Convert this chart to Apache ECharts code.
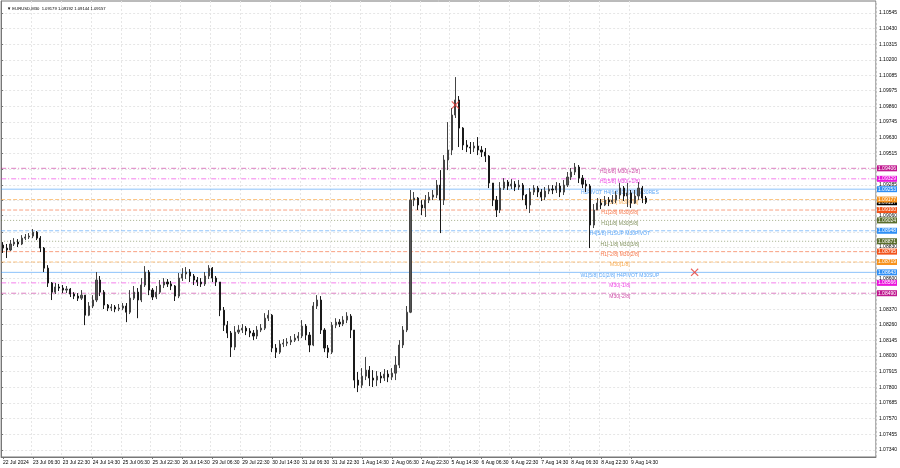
<!DOCTYPE html>
<html><head><meta charset="utf-8">
<script src="https://cdn.jsdelivr.net/npm/echarts@6/dist/echarts.min.js"></script>
<style>html,body{margin:0;padding:0;background:#fff}#c{width:900px;height:468px}</style>
</head><body><div id="c"></div>
<script>
// ---- data ----
const timeLabels = ["22 Jul 2024","23 Jul 06:30","23 Jul 22:30","24 Jul 14:30","25 Jul 06:30","25 Jul 22:30","26 Jul 14:30","29 Jul 06:30","29 Jul 22:30","30 Jul 14:30","31 Jul 06:30","31 Jul 22:30","1 Aug 14:30","2 Aug 06:30","2 Aug 22:30","5 Aug 14:30","6 Aug 06:30","6 Aug 22:30","7 Aug 14:30","8 Aug 06:30","8 Aug 22:30","9 Aug 14:30"];
const yTickLabels = ["1.07340","1.07455","1.07570","1.07685","1.07800","1.07915","1.08030","1.08145","1.08260","1.08370","1.08485","1.08600","1.08715","1.08830","1.08940","1.09060","1.09170","1.09285","1.09400","1.09515","1.09630","1.09745","1.09860","1.09975","1.10085","1.10200","1.10315","1.10430","1.10545"];
const firstOpen = 1.08843;
const closes = [1.08821,1.08807,1.08851,1.08865,1.08851,1.08894,1.08902,1.08909,1.08938,1.08894,
1.08821,1.08674,1.08565,1.08498,1.08536,1.08528,1.08513,1.08521,1.08484,1.08469,
1.08454,1.08476,1.08329,1.08396,1.08440,1.08587,1.08498,1.08403,1.08381,1.08389,
1.08374,1.08381,1.08396,1.08351,1.08454,1.08498,1.08440,1.08550,1.08645,1.08513,
1.08462,1.08498,1.08550,1.08572,1.08558,1.08543,1.08469,1.08601,1.08631,1.08645,
1.08616,1.08587,1.08572,1.08558,1.08616,1.08674,1.08601,1.08572,1.08366,1.08256,
1.08198,1.08095,1.08205,1.08220,1.08234,1.08213,1.08198,1.08176,1.08220,1.08234,
1.08307,1.08329,1.08088,1.08058,1.08117,1.08124,1.08132,1.08146,1.08161,1.08176,
1.08249,1.08183,1.08110,1.08396,1.08440,1.08220,1.08088,1.08058,1.08256,1.08278,
1.08264,1.08293,1.08322,1.08220,1.07853,1.07816,1.07882,1.07926,1.07868,1.07853,
1.07882,1.07868,1.07897,1.07875,1.07904,1.07963,1.08110,1.08220,1.08351,1.09173,
1.09188,1.09137,1.09115,1.09173,1.09195,1.09210,1.09283,1.09173,1.09467,1.09540,
1.09797,1.09907,1.09701,1.09577,1.09562,1.09555,1.09569,1.09540,1.09525,1.09496,
1.09298,1.09173,1.09100,1.09261,1.09305,1.09276,1.09290,1.09269,1.09283,1.09210,
1.09137,1.09232,1.09261,1.09232,1.09195,1.09239,1.09254,1.09247,1.09276,1.09232,
1.09283,1.09342,1.09379,1.09415,1.09334,1.09290,1.09276,1.08990,1.09100,1.09151,
1.09137,1.09173,1.09159,1.09173,1.09210,1.09261,1.09203,1.09225,1.09151,1.09203,
1.09261,1.09188,1.09157];
const highs = [1.08865,1.08851,1.08880,1.08894,1.08887,1.08916,1.08924,1.08931,1.08961,1.08946,
1.08909,1.08829,1.08696,1.08572,1.08565,1.08558,1.08550,1.08543,1.08528,1.08498,
1.08491,1.08513,1.08476,1.08425,1.08476,1.08645,1.08616,1.08513,1.08411,1.08411,
1.08403,1.08411,1.08418,1.08418,1.08513,1.08543,1.08528,1.08601,1.08689,1.08660,
1.08528,1.08543,1.08587,1.08601,1.08594,1.08580,1.08550,1.08638,1.08674,1.08682,
1.08667,1.08631,1.08609,1.08601,1.08645,1.08696,1.08682,1.08616,1.08572,1.08389,
1.08286,1.08213,1.08249,1.08256,1.08264,1.08249,1.08234,1.08220,1.08249,1.08264,
1.08344,1.08366,1.08337,1.08117,1.08146,1.08154,1.08161,1.08176,1.08191,1.08205,
1.08293,1.08264,1.08205,1.08425,1.08476,1.08469,1.08234,1.08110,1.08278,1.08307,
1.08300,1.08322,1.08351,1.08337,1.08220,1.07912,1.07941,1.08022,1.07956,1.07926,
1.07919,1.07912,1.07934,1.07926,1.07941,1.08029,1.08146,1.08249,1.08396,1.09247,
1.09232,1.09195,1.09173,1.09210,1.09232,1.09247,1.09320,1.09393,1.09503,1.09745,
1.09848,1.10075,1.09936,1.09708,1.09613,1.09599,1.09599,1.09635,1.09569,1.09555,
1.09503,1.09298,1.09203,1.09305,1.09334,1.09320,1.09327,1.09312,1.09320,1.09298,
1.09217,1.09261,1.09283,1.09276,1.09254,1.09269,1.09283,1.09283,1.09305,1.09298,
1.09320,1.09379,1.09408,1.09445,1.09430,1.09357,1.09320,1.09290,1.09144,1.09188,
1.09181,1.09203,1.09195,1.09210,1.09239,1.09298,1.09276,1.09298,1.09247,1.09247,
1.09305,1.09276,1.09203];
const lows = [1.08785,1.08748,1.08800,1.08836,1.08829,1.08843,1.08880,1.08887,1.08894,1.08880,
1.08792,1.08645,1.08536,1.08440,1.08484,1.08506,1.08491,1.08491,1.08462,1.08447,
1.08433,1.08440,1.08256,1.08322,1.08381,1.08425,1.08469,1.08374,1.08359,1.08359,
1.08351,1.08359,1.08366,1.08278,1.08337,1.08440,1.08307,1.08425,1.08536,1.08476,
1.08440,1.08447,1.08484,1.08528,1.08536,1.08513,1.08433,1.08454,1.08580,1.08594,
1.08572,1.08550,1.08543,1.08536,1.08543,1.08594,1.08572,1.08543,1.08322,1.08213,
1.08161,1.08022,1.08073,1.08191,1.08198,1.08183,1.08168,1.08146,1.08154,1.08205,
1.08220,1.08286,1.08058,1.08015,1.08044,1.08095,1.08102,1.08110,1.08132,1.08139,
1.08161,1.08146,1.08058,1.08102,1.08374,1.08191,1.08058,1.08015,1.08044,1.08234,
1.08242,1.08249,1.08271,1.08161,1.07794,1.07765,1.07794,1.07853,1.07809,1.07802,
1.07809,1.07831,1.07846,1.07838,1.07853,1.07853,1.07941,1.08088,1.08205,1.08344,
1.09129,1.09100,1.09063,1.09049,1.09151,1.09173,1.09188,1.08931,1.09137,1.09393,
1.09503,1.09775,1.09562,1.09540,1.09525,1.09511,1.09525,1.09503,1.09489,1.09452,
1.09261,1.09129,1.09049,1.09078,1.09247,1.09247,1.09254,1.09239,1.09247,1.09173,
1.09107,1.09078,1.09210,1.09195,1.09166,1.09173,1.09217,1.09217,1.09225,1.09195,
1.09210,1.09269,1.09320,1.09357,1.09298,1.09261,1.09232,1.08821,1.08968,1.09100,
1.09107,1.09129,1.09129,1.09144,1.09151,1.09181,1.09166,1.09122,1.09115,1.09144,
1.09173,1.09151,1.09144];
const levelValues = [1.09406,1.09329,1.09253,1.09177,1.09100,1.09024,1.08948,1.08871,1.08795,1.08719,1.08643,1.08566,1.08490];
const levelTexts = ["H1[6/8] M30[+2/8]","H1[5/8] M30[+1/8]","H1PIVOT H4[6/8] D1[3/8] M30RES","H1[3/8] M30[7/8]","H1[2/8] M30[6/8]","H1[1/8] M30[5/8]","H4[5/8] H1SUP M30PIVOT","H1[-1/8] M30[3/8]","H1[-2/8] M30[2/8]","M30[1/8]","W1[5/8] D1[2/8] H4PIVOT M30SUP","M30[-1/8]","M30[-2/8]"];
const lastPrice = 1.09157;
const crossPoints = [[121, 1.09870], [185, 1.08643]];

// ---- styles / layout ----
const levelColors = ["#c0188f","#ea16dc","#2f8ff5","#f7931e","#f2541b","#5a6e2c","#2f8ff5","#5a6e2c","#f2541b","#f7931e","#2f8ff5","#ea16dc","#c0188f"];
const levelDash = [[5,2,1,2],[5,2,1,2],"solid",[4,2],[4,2],[1,2],[4,2],[1,2],[4,2],[4,2],"solid",[5,2,1,2],[5,2,1,2]];
const SLOTS = 234, STEP = 8, TEXT_SLOT = 165;
const FONT = "Liberation Sans, Arial, sans-serif";

const categories = Array.from({length: SLOTS}, (_, i) => String(i));
const opens = [firstOpen].concat(closes.slice(0, -1));
const candles = closes.map((c, i) => [opens[i], c, lows[i], highs[i]]);
const yTickValues = yTickLabels.map(parseFloat);
const showSlot = (idx) => idx % STEP === 0 && idx / STEP < timeLabels.length;

function levelSeries(v, color, dash, lineOpacity, z) {
  return {
    type: 'line', xAxisIndex: 1, yAxisIndex: 0, z: z, silent: true, clip: false,
    symbol: 'none', data: [[0, v], [1, v]],
    lineStyle: {color: color, type: dash, width: 1, opacity: lineOpacity},
    endLabel: {show: true, formatter: p => p.value[1].toFixed(5), backgroundColor: color,
      color: '#fff', fontSize: 5, fontFamily: FONT, padding: [1, 1, 0, 1], distance: 1}
  };
}

const series = [levelSeries(lastPrice, '#000', 'solid', 0, 1)]
  .concat(levelValues.map((v, i) => levelSeries(v, levelColors[i], levelDash[i], 0.55, 1)));
series.push({
  type: 'scatter', z: 2, silent: true, symbolSize: 1, itemStyle: {color: 'rgba(0,0,0,0)'},
  data: levelValues.map((v, i) => ({
    value: [TEXT_SLOT, v],
    label: {formatter: levelTexts[i], color: levelColors[i]}
  })),
  label: {show: true, position: 'bottom', distance: 0, fontSize: 5, fontFamily: FONT}
});
series.push({
  type: 'candlestick', z: 3, data: candles, barWidth: 1.6,
  itemStyle: {color: '#555', color0: '#1a1a1a', borderColor: '#444', borderColor0: '#1a1a1a', borderWidth: 1}
});
series.push({
  type: 'scatter', z: 4, silent: true, data: crossPoints, symbolSize: 8,
  symbol: 'path://M1,0 L5,4 L9,0 L10,1 L6,5 L10,9 L9,10 L5,6 L1,10 L0,9 L4,5 L0,1 Z',
  itemStyle: {color: '#e53935'}
});

const chart = echarts.init(document.getElementById('c'), null, {renderer: 'canvas'});
chart.setOption({
  animation: false,
  backgroundColor: '#ffffff',
  title: {
    text: '▼ EURUSD,M30  1.09179 1.09192 1.09144 1.09157',
    left: 2, top: 2,
    textStyle: {fontSize: 4.2, fontWeight: 'normal', color: '#000', fontFamily: FONT}
  },
  grid: {left: 0, right: 23, top: 1, bottom: 11, show: true, borderColor: '#777', borderWidth: 1},
  xAxis: [{
    type: 'category', data: categories, boundaryGap: true,
    axisLine: {show: true, lineStyle: {color: '#777'}},
    axisTick: {show: true, alignWithLabel: true, interval: showSlot, length: 2, lineStyle: {color: '#777'}},
    axisLabel: {interval: showSlot, formatter: (v, i) => timeLabels[i / STEP], align: 'left', margin: 3,
      fontSize: 5, color: '#000', fontFamily: FONT},
    splitLine: {show: true, interval: showSlot, lineStyle: {color: '#e6e6e6', type: [2, 2]}}
  }, {
    type: 'value', min: 0, max: 1, show: false
  }],
  yAxis: {
    type: 'value', position: 'right', min: 1.07289, max: 1.10633,
    axisLine: {show: true, lineStyle: {color: '#777'}},
    axisTick: {show: true, length: 2, customValues: yTickValues, lineStyle: {color: '#777'}},
    axisLabel: {customValues: yTickValues, formatter: v => v.toFixed(5), margin: 3,
      fontSize: 5, color: '#000', fontFamily: FONT},
    splitLine: {show: true, lineStyle: {color: '#e6e6e6', type: [2, 2]}}
  },
  series: series
});
</script></body></html>
